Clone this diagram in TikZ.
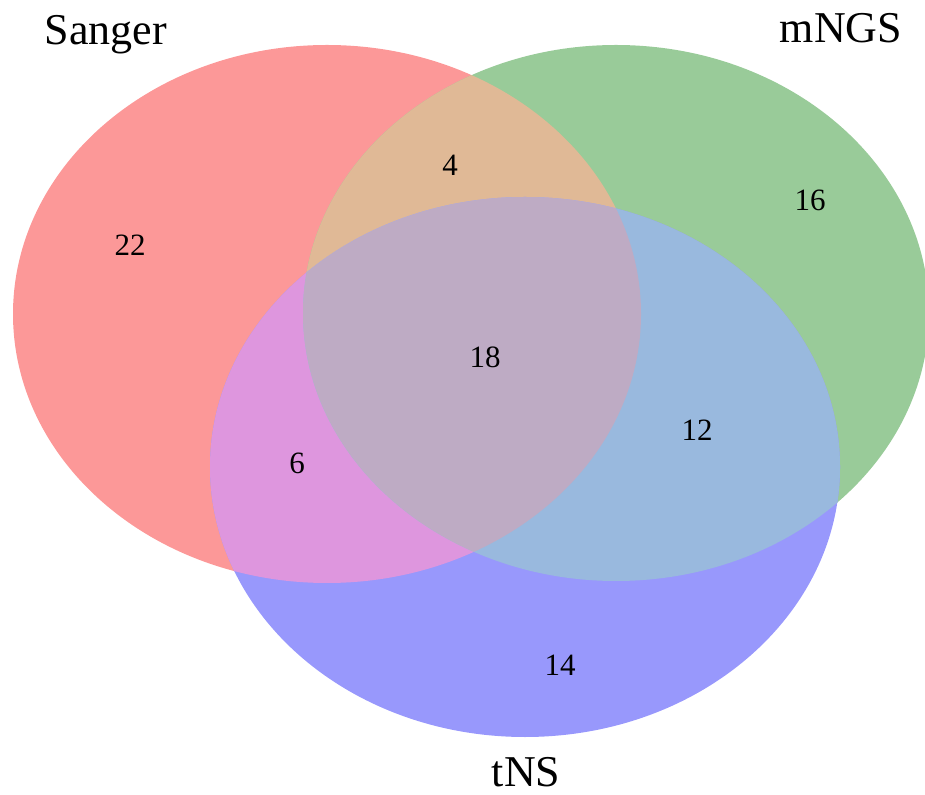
\documentclass[tikz,border=0pt]{standalone}
\usepackage{fontspec}
\setmainfont{Liberation Serif}
\usepackage{tikz}
\definecolor{sangerred}{RGB}{252,152,152}
\definecolor{mngsgreen}{RGB}{153,203,153}
\definecolor{tnsblue}{RGB}{152,152,252}
\definecolor{redgreen}{RGB}{224,185,150}
\definecolor{redblue}{RGB}{222,150,222}
\definecolor{greenblue}{RGB}{153,185,222}
\definecolor{allthree}{RGB}{190,171,196}
\def\sangerset{(327,314) ellipse [x radius=314, y radius=269]}
\def\mngsset{(616,313) ellipse [x radius=313, y radius=268]}
\def\tnsset{(525,467) ellipse [x radius=315, y radius=270]}

\begin{document}
\begin{tikzpicture}[x=0.5pt,y=-0.5pt,
  num/.style={font=\fontsize{15.5}{18}\selectfont},
  setname/.style={font=\fontsize{22}{26}\selectfont,anchor=base,inner sep=1pt}]
\useasboundingbox (0,0) rectangle (925,795);
% the three sets
\fill[sangerred] \sangerset;
\fill[mngsgreen] \mngsset;
\fill[tnsblue] \tnsset;
% overlaps
\begin{scope}
\clip \sangerset;
\fill[redgreen] \mngsset;
\fill[redblue] \tnsset;
\end{scope}
\begin{scope}
\clip \mngsset;
\fill[greenblue] \tnsset;
\end{scope}
\begin{scope}
\clip \sangerset;
\clip \mngsset;
\fill[allthree] \tnsset;
\end{scope}

\node[setname] (sanger) at (106,45) {Sanger};
\node[setname] (mngs) at (841,43) {mNGS};
\node[setname] (tns) at (526,786) {tNS};

\node[num] (onlysanger) at (130,245) {22};
\node[num] (sangermngs) at (450,165) {4};
\node[num] (onlymngs) at (810,200) {16};
\node[num] (core) at (485,357) {18};
\node[num] (mngstns) at (697,430) {12};
\node[num] (sangertns) at (297,463) {6};
\node[num] (onlytns) at (560,665) {14};
\end{tikzpicture}
\end{document}
